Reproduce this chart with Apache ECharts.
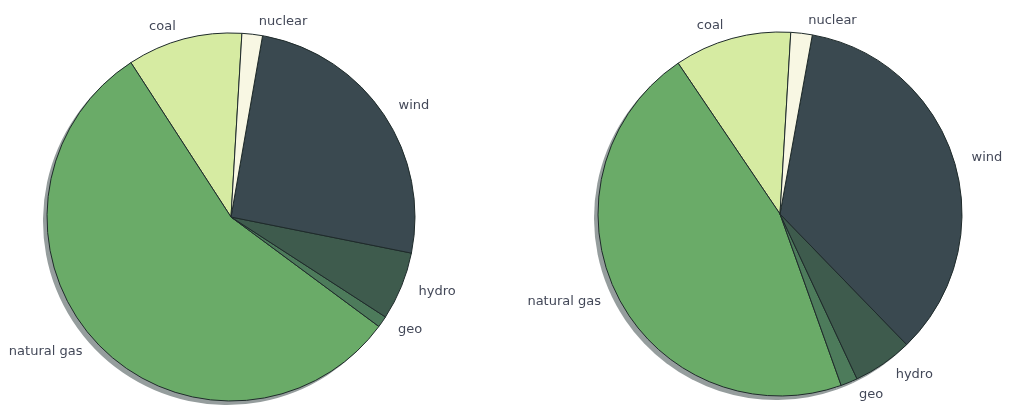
<!DOCTYPE html>
<html>
<head>
<meta charset="utf-8">
<script src="https://cdn.jsdelivr.net/npm/echarts@6/dist/echarts.min.js"></script>
<style>
html, body { margin: 0; padding: 0; background: #fff; }
#chart { width: 1009px; height: 409px; }
</style>
</head>
<body>
<div id="chart"></div>
<script>
var dom = document.getElementById("chart");
var myChart = echarts.init(dom);

// counter-clockwise from just right of 12 o'clock
var sources = ['coal', 'natural gas', 'geo', 'hydro', 'wind', 'nuclear'];
var leftShare = [10.1, 55.7, 1.0, 6.0, 25.4, 1.8];
var rightShare = [10.4, 46.0, 1.5, 5.3, 34.9, 1.9];
var colors = ['#d6eba2', '#6aab68', '#4d7b5b', '#3e5b4d', '#3a4950', '#f8f7e3'];

function pieData(values) {
    return sources.map(function (name, i) {
        return { name: name, value: values[i], itemStyle: { color: colors[i] } };
    });
}

function shadowData(values) {
    return sources.map(function (name, i) {
        return { name: name, value: values[i] };
    });
}

function pieSeries(values, center, radius) {
    return {
        type: 'pie',
        center: center,
        radius: radius,
        startAngle: 86.6,
        clockwise: false,
        avoidLabelOverlap: false,
        animation: false,
        emphasis: { disabled: true },
        itemStyle: { borderColor: '#1f2b2b', borderWidth: 1 },
        label: {
            show: true,
            position: 'outside',
            color: '#434858',
            fontFamily: 'DejaVu Sans',
            fontSize: 13
        },
        labelLine: { show: false, length: 13, length2: 0 },
        data: pieData(values)
    };
}

function shadowSeries(values, center, radius) {
    return {
        type: 'pie',
        center: center,
        radius: radius,
        startAngle: 86.6,
        clockwise: false,
        silent: true,
        animation: false,
        label: { show: false },
        labelLine: { show: false },
        itemStyle: { color: '#959d9d', borderWidth: 0 },
        data: shadowData(values)
    };
}

var option = {
    backgroundColor: '#fff',
    series: [
        shadowSeries(leftShare, [227, 221], 184),
        shadowSeries(rightShare, [776, 218], 182),
        pieSeries(leftShare, [231, 217], 184),
        pieSeries(rightShare, [780, 214], 182)
    ]
};

myChart.setOption(option, true);
</script>
</body>
</html>
